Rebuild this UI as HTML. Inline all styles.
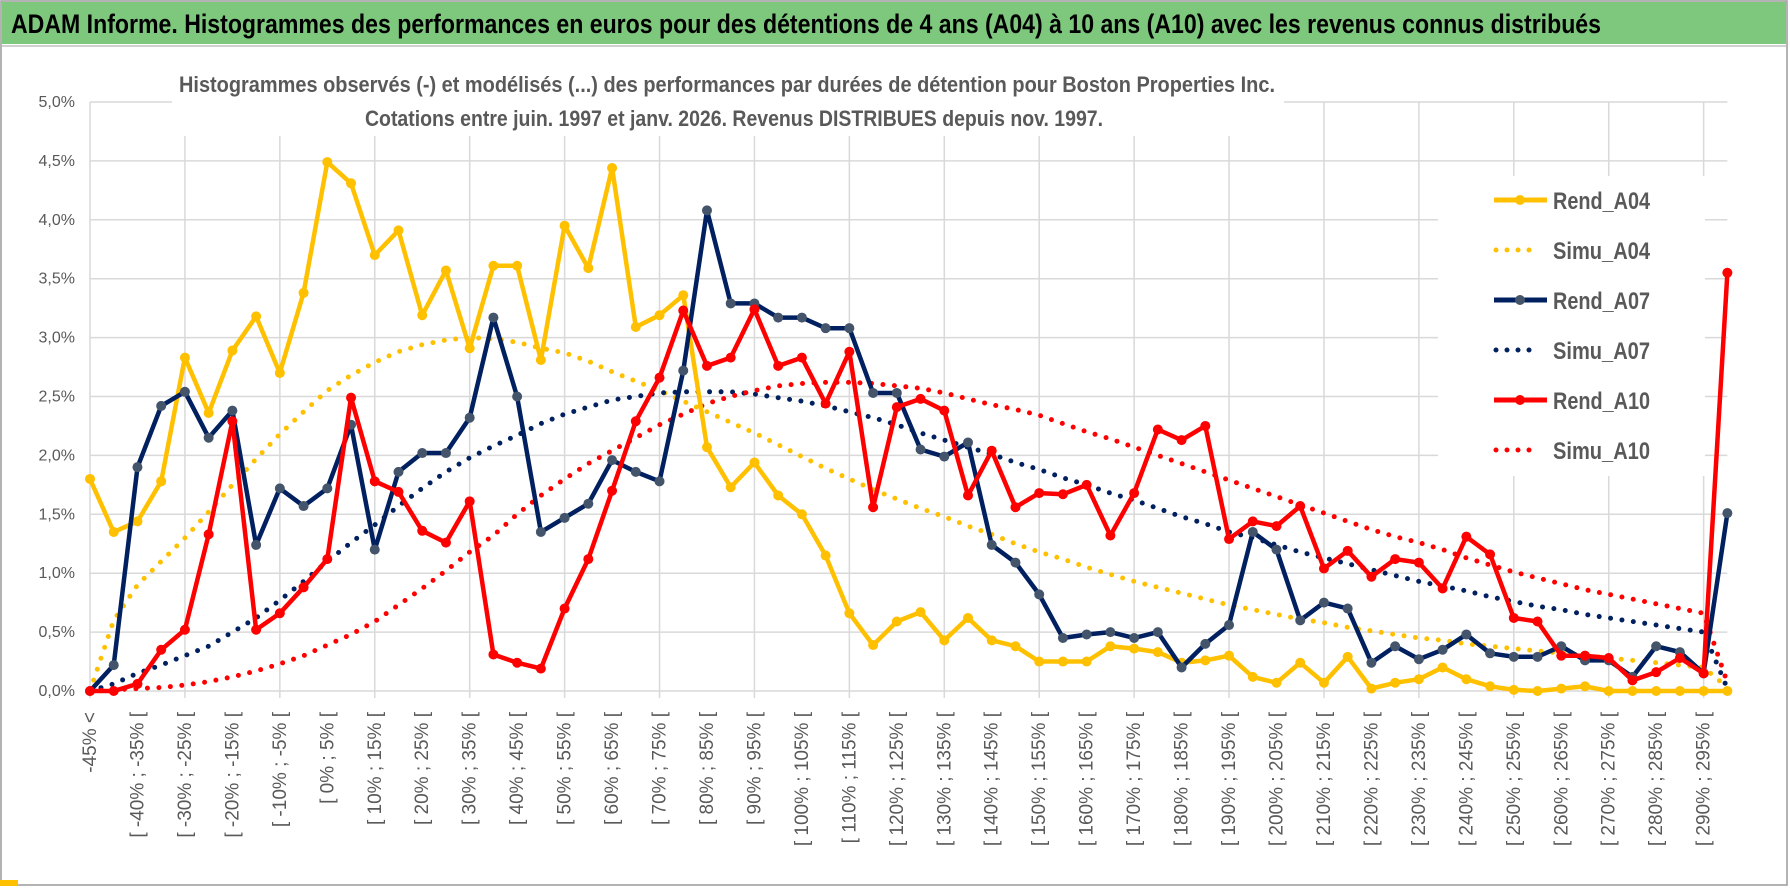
<!DOCTYPE html>
<html><head><meta charset="utf-8"><style>
html,body{margin:0;padding:0;background:#fff;}
svg{display:block;font-family:"Liberation Sans",sans-serif;}
</style></head>
<body>
<svg id="chart" width="1790" height="888" viewBox="0 0 1790 888" xmlns="http://www.w3.org/2000/svg">
  <rect x="0" y="0" width="1790" height="888" fill="#fff"/>
  <rect x="1" y="1" width="1786" height="884" fill="none" stroke="#9a9a9a" stroke-width="1.5"/>
  <rect x="2" y="2" width="1784" height="42" fill="#7ec87e"/>
  <line x1="2" y1="46" x2="1786" y2="46" stroke="#d0d0d0" stroke-width="2"/>
  <rect x="0" y="880" width="18" height="6" fill="#ffc000"/>
  <text x="11" y="33" font-size="27" font-weight="bold" fill="#000" textLength="1590" lengthAdjust="spacingAndGlyphs">ADAM Informe. Histogrammes des performances en euros pour des détentions de 4 ans (A04) à 10 ans (A10) avec les revenus connus distribués</text>
  <g id="grid"></g>
  <g id="yaxis"></g>
  <g id="xaxis"></g>
  <rect x="172" y="60" width="1112" height="76" fill="#fff"/>
  <text x="179" y="92" font-size="22" font-weight="bold" fill="#595959" textLength="1096" lengthAdjust="spacingAndGlyphs">Histogrammes observés (-) et modélisés (...) des performances par durées de détention pour Boston Properties Inc.</text>
  <text x="365" y="126" font-size="22" font-weight="bold" fill="#595959" textLength="738" lengthAdjust="spacingAndGlyphs">Cotations entre juin. 1997 et janv. 2026. Revenus DISTRIBUES depuis nov. 1997.</text>
  <rect x="1438" y="176" width="267" height="300" fill="#fff"/>
  <g id="series"></g>
  <g id="legend"></g>
</svg>
<script>
var rendA04 = [1.8,1.35,1.44,1.78,2.83,2.36,2.89,3.18,2.7,3.38, 4.49,4.31,3.7,3.91,3.19,3.57,2.91,3.61,3.61,2.81, 3.95,3.59,4.44,3.09,3.19,3.36,2.07,1.73,1.94,1.66, 1.5,1.15,0.66,0.39,0.59,0.67,0.43,0.62,0.43,0.38, 0.25,0.25,0.25,0.38,0.36,0.33,0.24,0.26,0.3,0.12, 0.07,0.24,0.07,0.29,0.02,0.07,0.1,0.2,0.1,0.04, 0.01,0,0.02,0.04,0,0,0,0,0,0];
var simuA04 = [0,0.6,0.9,1.1,1.3,1.52,1.75,1.97,2.18,2.37, 2.55,2.68,2.79,2.88,2.94,2.98,3.0,2.99,2.96,2.91, 2.87,2.8,2.71,2.63,2.55,2.46,2.37,2.28,2.19,2.09, 1.99,1.89,1.8,1.71,1.63,1.55,1.48,1.4,1.33,1.25, 1.18,1.12,1.05,0.99,0.93,0.88,0.83,0.78,0.73,0.69, 0.65,0.61,0.58,0.54,0.51,0.48,0.45,0.43,0.4,0.38, 0.36,0.34,0.32,0.3,0.28,0.26,0.24,0.22,0.2,0.03];
var rendA07 = [0,0.22,1.9,2.42,2.54,2.15,2.38,1.24,1.72,1.57, 1.72,2.26,1.2,1.86,2.02,2.02,2.32,3.17,2.5,1.35, 1.47,1.59,1.96,1.86,1.78,2.72,4.08,3.29,3.29,3.17, 3.17,3.08,3.08,2.53,2.53,2.05,1.99,2.11,1.24,1.09, 0.82,0.45,0.48,0.5,0.45,0.5,0.2,0.4,0.56,1.35, 1.2,0.6,0.75,0.7,0.24,0.38,0.27,0.35,0.48,0.32, 0.29,0.29,0.38,0.26,0.26,0.12,0.38,0.33,0.15,1.51];
var simuA07 = [0,0.06,0.15,0.22,0.3,0.38,0.5,0.62,0.77,0.93, 1.1,1.26,1.41,1.57,1.72,1.86,1.98,2.08,2.17,2.27, 2.35,2.41,2.47,2.5,2.53,2.54,2.54,2.54,2.52,2.49, 2.46,2.42,2.37,2.32,2.26,2.19,2.13,2.07,2.01,1.94, 1.88,1.81,1.75,1.68,1.62,1.55,1.48,1.42,1.35,1.3, 1.24,1.18,1.13,1.08,1.03,0.98,0.93,0.89,0.85,0.8, 0.76,0.72,0.69,0.65,0.62,0.59,0.56,0.53,0.5,0.02];
var rendA10 = [0,0,0.06,0.35,0.52,1.33,2.29,0.52,0.66,0.88, 1.12,2.49,1.78,1.69,1.36,1.26,1.61,0.31,0.24,0.19, 0.7,1.12,1.7,2.29,2.66,3.23,2.76,2.83,3.24,2.76, 2.83,2.44,2.88,1.56,2.41,2.48,2.38,1.66,2.04,1.56, 1.68,1.67,1.75,1.32,1.68,2.22,2.13,2.25,1.29,1.44, 1.4,1.57,1.04,1.19,0.97,1.12,1.09,0.87,1.31,1.16, 0.62,0.59,0.3,0.3,0.28,0.09,0.16,0.28,0.15,3.55];
var simuA10 = [0,0.01,0.02,0.03,0.05,0.08,0.12,0.17,0.23,0.3, 0.39,0.48,0.59,0.73,0.87,1.02,1.18,1.32,1.5,1.66, 1.8,1.93,2.04,2.15,2.26,2.35,2.44,2.5,2.55,2.59, 2.61,2.62,2.62,2.61,2.59,2.57,2.53,2.48,2.43,2.39, 2.34,2.27,2.2,2.14,2.07,2.0,1.93,1.86,1.79,1.72, 1.65,1.58,1.51,1.44,1.37,1.31,1.26,1.2,1.13,1.07, 1.01,0.96,0.91,0.86,0.82,0.78,0.74,0.7,0.66,0.07];
var yTicks = [0,0.5,1,1.5,2,2.5,3,3.5,4,4.5,5];
var yTickLabels = ["0,0%","0,5%","1,0%","1,5%","2,0%","2,5%","3,0%","3,5%","4,0%","4,5%","5,0%"];
var binStart = -45, binWidth = 5, nCats = 70;
var categories = [];
categories.push("-45% <");
for (var c = 1; c < nCats; c++) {
  var a = binStart + binWidth * (c - 1);
  categories.push("[ " + a + "% ; " + (a + binWidth) + "% [");
}

var NS = "http://www.w3.org/2000/svg";
var X0 = 90, XSTEP = 23.73, Y0 = 691, YPER = 117.8;
function xPos(i) { return X0 + i * XSTEP; }
function yPos(v) { return Y0 - v * YPER; }
function mk(tag, attrs, parent) {
  var e = document.createElementNS(NS, tag);
  for (var k in attrs) e.setAttribute(k, attrs[k]);
  parent.appendChild(e);
  return e;
}
var grid = document.getElementById("grid");
var yaxis = document.getElementById("yaxis");
var xaxis = document.getElementById("xaxis");
var seriesG = document.getElementById("series");
var legend = document.getElementById("legend");
var xEnd = xPos(nCats - 1);

yTicks.forEach(function (t, k) {
  var l = mk("line", {x1: X0, x2: xEnd, y1: yPos(t), y2: yPos(t), stroke: "#d9d9d9", "stroke-width": 1.5}, grid);
  
  
  var tx = mk("text", {x: 75, y: yPos(t) + 5, "text-anchor": "end", "font-size": 16, fill: "#595959"}, yaxis);
  tx.textContent = yTickLabels[k];
  
  
});
for (var i = 0; i < nCats; i += 4) {
  var vl = mk("line", {x1: xPos(i), x2: xPos(i), y1: yPos(5), y2: Y0 + 7, stroke: "#d9d9d9", "stroke-width": 1.5}, grid);
  
  
}
for (var i2 = 0; i2 < nCats; i2 += 2) {
  var xx = xPos(i2) + 6, yy = 712;
  var lt = mk("text", {x: xx, y: yy, "text-anchor": "end", "font-size": 19, fill: "#595959", transform: "rotate(-90 " + xx + " " + yy + ")"}, xaxis);
  lt.textContent = categories[i2];
  
  
}

function drawSeries(vals, color, dotted, markerFill, name) {
  var g = mk("g", {}, seriesG);
  
  
  var pts = vals.map(function (v, i) { return xPos(i).toFixed(1) + "," + yPos(v).toFixed(1); }).join(" ");
  var attrs = {points: pts, fill: "none", stroke: color, "stroke-linejoin": "round"};
  if (dotted) { attrs["stroke-width"] = 5; attrs["stroke-dasharray"] = "0 11.5"; attrs["stroke-linecap"] = "round"; }
  else { attrs["stroke-width"] = 4.5; }
  var pl = mk("polyline", attrs, g);
  
  
  if (!dotted) {
    vals.forEach(function (v, i) {
      var m = mk("circle", {cx: xPos(i), cy: yPos(v), r: 5, fill: markerFill}, g);
      
      
    });
  }
}
drawSeries(simuA04, "#ffc000", true, null, "simu-a04");
drawSeries(simuA07, "#002060", true, null, "simu-a07");
drawSeries(simuA10, "#ff0000", true, null, "simu-a10");
drawSeries(rendA04, "#ffc000", false, "#ffc000", "rend-a04");
drawSeries(rendA07, "#002060", false, "#44546a", "rend-a07");
drawSeries(rendA10, "#ff0000", false, "#ff0000", "rend-a10");

var legNames = ["Rend_A04","Simu_A04","Rend_A07","Simu_A07","Rend_A10","Simu_A10"];
var legColors = ["#ffc000","#ffc000","#002060","#002060","#ff0000","#ff0000"];
var legMarker = ["#ffc000",null,"#44546a",null,"#ff0000",null];
legNames.forEach(function (n, k) {
  var cy = 200 + k * 50;
  var g = mk("g", {}, legend);
  
  
  if (legMarker[k]) {
    mk("line", {x1: 1494, x2: 1547, y1: cy, y2: cy, stroke: legColors[k], "stroke-width": 5}, g);
    mk("circle", {cx: 1520, cy: cy, r: 5, fill: legMarker[k]}, g);
  } else {
    mk("line", {x1: 1496, x2: 1540, y1: cy, y2: cy, stroke: legColors[k], "stroke-width": 5, "stroke-dasharray": "0 11", "stroke-linecap": "round"}, g);
  }
  var t = mk("text", {x: 1553, y: cy + 9, "font-size": 24, "font-weight": "bold", fill: "#595959", textLength: 97, lengthAdjust: "spacingAndGlyphs"}, g);
  t.textContent = n;
});
</script>
</body></html>
